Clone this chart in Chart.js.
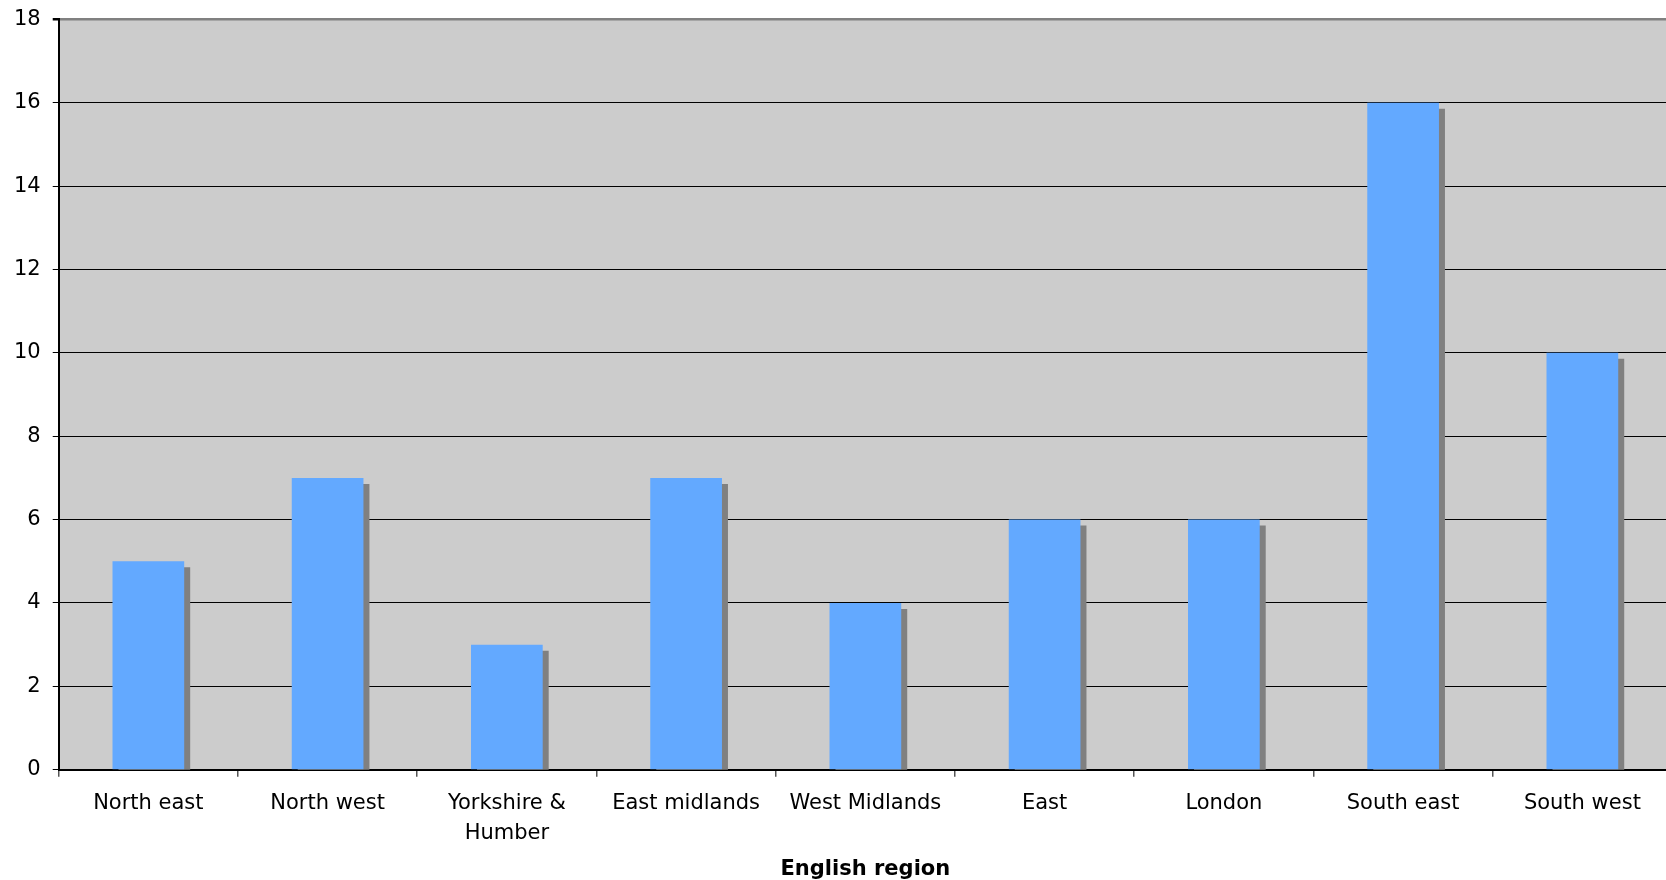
<!DOCTYPE html>
<html>
<head>
<meta charset="utf-8">
<script src="https://cdn.jsdelivr.net/npm/chart.js@4"></script>
<style>
  html, body { margin: 0; padding: 0; background: #fff; overflow: hidden; }
  #wrap { width: 1672px; height: 880px; }
</style>
</head>
<body>
<div id="wrap"><canvas id="regionChart" width="1672" height="880"></canvas></div>
<script>
// datos del gráfico
const regions = ['North east', 'North west', ['Yorkshire &', 'Humber'], 'East midlands',
    'West Midlands', 'East', 'London', 'South east', 'South west'];
const counts = [5, 7, 3, 7, 4, 6, 6, 16, 10];
const yTicks = [0, 2, 4, 6, 8, 10, 12, 14, 16, 18];
const xTitle = 'English region';

// fondo gris del área de trazado
const plotBackground = {
    id: 'plotBackground',
    beforeDraw(chart) {
        const { ctx, chartArea: a } = chart;
        ctx.save();
        ctx.fillStyle = '#cccccc';
        ctx.fillRect(a.left, a.top, a.right - a.left, a.bottom - a.top);
        ctx.restore();
    }
};

// sombra gris a la derecha de cada barra
const barShadow = {
    id: 'barShadow',
    beforeDatasetDraw(chart) {
        const ctx = chart.ctx;
        ctx.save();
        ctx.shadowColor = '#808080';
        ctx.shadowBlur = 0;
        ctx.shadowOffsetX = 6;
        ctx.shadowOffsetY = 6;
    },
    afterDatasetDraw(chart) {
        chart.ctx.restore();
    }
};

const font = { family: '"DejaVu Sans", Verdana, sans-serif', size: 21 };

new Chart(document.getElementById('regionChart').getContext('2d'), {
    type: 'bar',
    data: {
        labels: regions,
        datasets: [{
            data: counts,
            backgroundColor: '#63a9ff',
            borderWidth: 0,
            barPercentage: 0.8,
            categoryPercentage: 0.5
        }]
    },
    options: {
        responsive: false,
        animation: false,
        devicePixelRatio: 1,
        layout: { padding: { left: 2, top: 3, right: 0, bottom: 0 } },
        plugins: { legend: { display: false }, tooltip: { enabled: false } },
        scales: {
            x: {
                offset: true,
                grid: {
                    offset: true,
                    drawOnChartArea: false,
                    tickLength: 7,
                    tickColor: '#555555',
                    lineWidth: 1.5
                },
                border: { color: '#000', width: 2 },
                ticks: {
                    color: '#000',
                    font: { ...font, lineHeight: 1.43 },
                    padding: 12,
                    maxRotation: 0,
                    autoSkip: false
                },
                title: {
                    display: true,
                    text: xTitle,
                    color: '#000',
                    font: { ...font, weight: 'bold' },
                    padding: { top: -4, bottom: -2 }
                }
            },
            y: {
                min: 0,
                max: 18,
                afterBuildTicks(axis) {
                    axis.ticks = yTicks.map(v => ({ value: v }));
                },
                grid: {
                    color: ctx => ctx.tick && ctx.tick.value === 18 ? '#808080' : '#000',
                    lineWidth: ctx => ctx.tick && ctx.tick.value === 18 ? 2.5 : 1,
                    tickColor: '#000',
                    tickLength: 6
                },
                border: { color: '#000', width: 2 },
                ticks: { color: '#000', font: { ...font, lineHeight: 0.7 }, padding: 12 }
            }
        }
    },
    plugins: [plotBackground, barShadow]
});
</script>
</body>
</html>
